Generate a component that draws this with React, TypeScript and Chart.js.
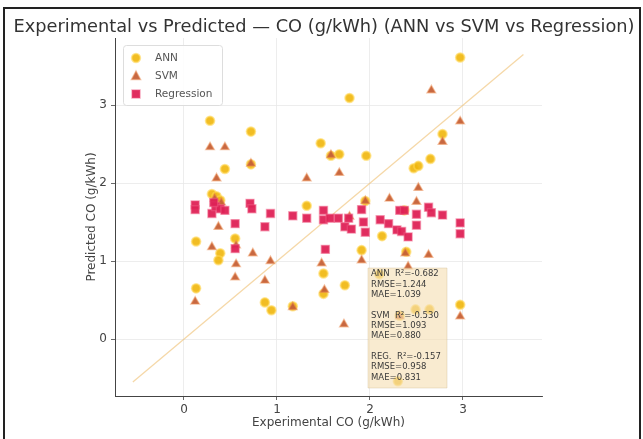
import React, { useEffect, useRef } from "react";
import { Chart, registerables } from "chart.js";
Chart.register(...registerables);

const W = 643;
const H = 439;
const AREA = { left: 115, right: 542, top: 38, bottom: 396 };

const titleText = "Experimental vs Predicted — CO (g/kWh) (ANN vs SVM vs Regression)";
const xTitle = "Experimental CO (g/kWh)";
const yTitle = "Predicted CO (g/kWh)";
const xTicks = [0, 1, 2, 3];
const yTicks = [0, 1, 2, 3];
const seriesNames = ["ANN", "SVM", "Regression"];

const annExp = [2.97, 1.78, 0.28, 0.72, 1.47, 1.58, 1.67, 1.96, 0.44, 0.72, 2.47, 2.52, 2.65, 2.78, 1.32, 0.3, 0.35, 0.39, 2.13, 0.13, 0.39, 0.37, 0.55, 0.13, 0.87, 0.94, 1.5, 1.73, 1.91, 2.39, 2.97, 2.3, 2.32, 2.49, 2.64, 1.5, 1.17, 1.95, 2.37, 2.1];
const annPred = [3.61, 3.09, 2.8, 2.66, 2.51, 2.35, 2.37, 2.35, 2.18, 2.24, 2.19, 2.22, 2.31, 2.63, 1.71, 1.86, 1.83, 1.78, 1.32, 1.25, 1.1, 1.01, 1.29, 0.65, 0.47, 0.37, 0.84, 0.69, 1.14, 1.12, 0.44, -0.54, 0.3, 0.38, 0.38, 0.58, 0.42, 1.77, 1.65, 0.83];

const svmExp = [2.66, 2.97, 0.28, 0.44, 1.67, 0.35, 1.32, 2.52, 2.21, 2.5, 1.95, 1.78, 0.37, 0.3, 0.74, 0.56, 0.55, 0.93, 0.87, 0.12, 1.17, 1.48, 1.51, 1.72, 1.91, 2.41, 2.38, 2.63, 2.97, 2.78, 0.72, 0.56, 0.33, 0.4, 1.58, 2.32];
const svmPred = [3.19, 2.79, 2.46, 2.46, 2.13, 2.06, 2.06, 1.94, 1.8, 1.76, 1.77, 1.57, 1.44, 1.18, 1.1, 0.96, 0.79, 1.0, 0.75, 0.48, 0.41, 0.97, 0.63, 0.19, 1.01, 0.93, 1.1, 1.08, 0.29, 2.53, 2.25, 1.2, 1.8, 1.75, 2.36, 0.29];

const regExp = [0.12, 0.12, 0.3, 0.34, 0.39, 0.44, 0.32, 0.55, 0.55, 0.71, 0.73, 0.87, 0.93, 1.17, 1.32, 1.5, 1.5, 1.52, 1.57, 1.66, 1.77, 1.73, 1.8, 1.91, 1.93, 1.95, 2.11, 2.2, 2.29, 2.34, 2.41, 2.32, 2.37, 2.5, 2.5, 2.63, 2.66, 2.78, 2.97, 2.97];
const regPred = [1.72, 1.66, 1.61, 1.7, 1.67, 1.65, 1.75, 1.48, 1.16, 1.74, 1.67, 1.44, 1.61, 1.58, 1.55, 1.65, 1.53, 1.15, 1.55, 1.55, 1.55, 1.44, 1.41, 1.66, 1.5, 1.37, 1.53, 1.48, 1.4, 1.38, 1.31, 1.65, 1.65, 1.6, 1.46, 1.69, 1.62, 1.59, 1.49, 1.35];

const idealLine = [-0.55, 3.65];

const statsLines = [
  "ANN  R²=-0.682",
  "RMSE=1.244",
  "MAE=1.039",
  "",
  "SVM  R²=-0.530",
  "RMSE=1.093",
  "MAE=0.880",
  "",
  "REG.  R²=-0.157",
  "RMSE=0.958",
  "MAE=0.831",
];

const FONT = "'DejaVu Sans', sans-serif";
const ANN_C = "rgba(240,182,12,0.9)";
const ANN_B = "rgba(255,214,80,0.6)";
const SVM_C = "rgba(196,96,56,0.95)";
const SVM_B = "rgba(236,140,80,0.5)";
const REG_C = "rgba(222,34,86,0.95)";
const REG_B = "rgba(240,90,130,0.5)";

const pts = (xs: number[], ys: number[]) => xs.map((x, i) => ({ x, y: ys[i] }));

const decor = {
  id: "decor",
  afterDatasetsDraw(chart: any) {
    const ctx = chart.ctx as CanvasRenderingContext2D;
    const a = chart.chartArea;
    ctx.save();
    // stats box
    const bx = a.left + 253;
    const by = a.top + 230;
    const bw = 79;
    const bh = 120;
    ctx.fillStyle = "rgba(245,222,179,0.62)";
    ctx.strokeStyle = "rgba(200,180,140,0.35)";
    ctx.lineWidth = 1;
    ctx.beginPath();
    ctx.rect(bx, by, bw, bh);
    ctx.fill();
    ctx.stroke();
    ctx.fillStyle = "#3a3a3a";
    ctx.font = `8.5px ${FONT}`;
    ctx.textAlign = "left";
    ctx.textBaseline = "middle";
    statsLines.forEach((t, i) => {
      if (t) ctx.fillText(t, bx + 3, by + 6 + i * 10.35);
    });

    // legend
    const lx = 123, ly = 45, lw = 99, lh = 60;
    ctx.fillStyle = "rgba(255,255,255,0.85)";
    ctx.strokeStyle = "#dddddd";
    ctx.beginPath();
    (ctx as any).roundRect(lx + 0.5, ly + 0.5, lw, lh, 3);
    ctx.fill();
    ctx.stroke();
    const ys = [58, 76, 94];
    const mx = 136;
    ctx.fillStyle = ANN_C;
    ctx.strokeStyle = ANN_B;
    ctx.lineWidth = 2;
    ctx.beginPath();
    ctx.arc(mx, ys[0], 4.2, 0, Math.PI * 2);
    ctx.fill();
    ctx.stroke();
    ctx.fillStyle = SVM_C;
    ctx.strokeStyle = SVM_B;
    ctx.lineWidth = 1.5;
    ctx.beginPath();
    ctx.moveTo(mx, ys[1] - 5);
    ctx.lineTo(mx + 4.5, ys[1] + 3.5);
    ctx.lineTo(mx - 4.5, ys[1] + 3.5);
    ctx.closePath();
    ctx.fill();
    ctx.stroke();
    ctx.fillStyle = REG_C;
    ctx.strokeStyle = REG_B;
    ctx.beginPath();
    ctx.rect(mx - 4, ys[2] - 4, 8, 8);
    ctx.fill();
    ctx.stroke();
    ctx.fillStyle = "#555";
    ctx.font = `10.5px ${FONT}`;
    seriesNames.forEach((n, i) => ctx.fillText(n, 155, ys[i]));
    ctx.restore();
  },
  afterDraw(chart: any) {
    const ctx = chart.ctx as CanvasRenderingContext2D;
    const a = chart.chartArea;
    ctx.save();
    ctx.fillStyle = "#333";
    ctx.font = `17.8px ${FONT}`;
    ctx.textAlign = "center";
    ctx.textBaseline = "middle";
    ctx.fillText(titleText, 324, 27);
    ctx.fillStyle = "#444";
    ctx.font = `12px ${FONT}`;
    ctx.fillText(xTitle, (a.left + a.right) / 2, 423);
    ctx.translate(92, (a.top + a.bottom) / 2);
    ctx.rotate(-Math.PI / 2);
    ctx.fillText(yTitle, 0, 0);
    ctx.restore();
  },
};

export default function App() {
  const ref = useRef<HTMLCanvasElement | null>(null);
  useEffect(() => {
    document.body.style.margin = "0";
    const canvas = ref.current!;
    const grid = {
      color: "#e8e8e8",
      lineWidth: 0.8,
      tickColor: "#444",
      tickLength: 4,
      drawTicks: true,
    };
    const chart = new Chart(canvas, {
      type: "scatter",
      data: {
        datasets: [
          {
            type: "line",
            label: "ideal",
            data: idealLine.map((v) => ({ x: v, y: v })),
            borderColor: "rgba(238,190,110,0.6)",
            borderWidth: 1.3,
            pointRadius: 0,
            order: 4,
          } as any,
          {
            label: seriesNames[0],
            data: pts(annExp, annPred),
            pointStyle: "circle",
            pointRadius: 4.3,
            backgroundColor: ANN_C,
            borderColor: ANN_B,
            borderWidth: 2,
            order: 3,
          },
          {
            label: seriesNames[1],
            data: pts(svmExp, svmPred),
            pointStyle: "triangle",
            pointRadius: 4.8,
            backgroundColor: SVM_C,
            borderColor: SVM_B,
            borderWidth: 1.5,
            order: 2,
          },
          {
            label: seriesNames[2],
            data: pts(regExp, regPred),
            pointStyle: "rect",
            pointRadius: 5.6,
            backgroundColor: REG_C,
            borderColor: REG_B,
            borderWidth: 1.5,
            order: 1,
          },
        ],
      },
      options: {
        responsive: false,
        animation: false,
        layout: { padding: { top: AREA.top, right: W - AREA.right, left: 0, bottom: 0 } },
        plugins: { legend: { display: false }, tooltip: { enabled: false }, title: { display: false } },
        scales: {
          x: {
            type: "linear",
            min: -0.742,
            max: 3.85,
            afterBuildTicks: (s: any) => {
              s.ticks = xTicks.map((v) => ({ value: v }));
            },
            afterFit: (s: any) => {
              s.height = H - AREA.bottom;
            },
            grid,
            border: { display: true, color: "#444", width: 1 },
            ticks: { color: "#444", font: { size: 12, family: FONT }, padding: 3 },
          },
          y: {
            type: "linear",
            min: -0.73,
            max: 3.86,
            afterBuildTicks: (s: any) => {
              s.ticks = yTicks.map((v) => ({ value: v }));
            },
            afterFit: (s: any) => {
              s.width = AREA.left;
            },
            grid,
            border: { display: true, color: "#444", width: 1 },
            ticks: { color: "#444", font: { size: 12, family: FONT }, padding: 4 },
          },
        },
      },
      plugins: [decor],
    } as any);
    return () => chart.destroy();
  }, []);
  return (
    <div style={{ position: "relative", width: W, height: H, overflow: "hidden", background: "#fff" }}>
      <canvas ref={ref} width={W} height={H} style={{ display: "block", width: W, height: H }} />
      <div
        style={{
          position: "absolute",
          left: 3,
          top: 7,
          width: 634,
          height: 440,
          borderTop: "2px solid #222",
          borderLeft: "2px solid #222",
          borderRight: "2px solid #222",
          pointerEvents: "none",
        }}
      />
    </div>
  );
}
